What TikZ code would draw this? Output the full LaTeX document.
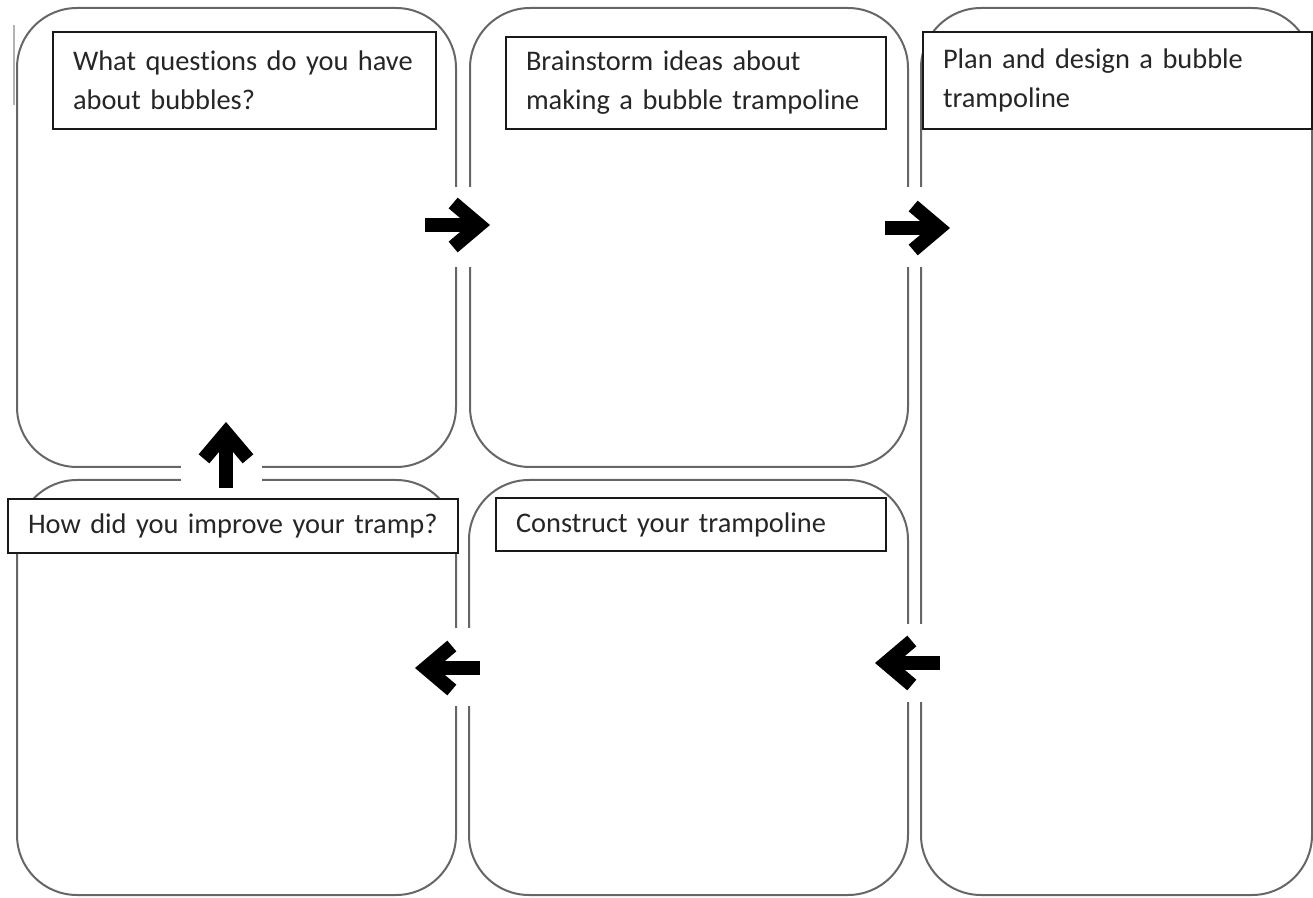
\documentclass[tikz,border=0pt]{standalone}
\usepackage{fontspec}
\setmainfont{Carlito}[Ligatures=NoCommon]
\usetikzlibrary{arrows.meta}

\begin{document}
\begin{tikzpicture}[x=0.5pt,y=-0.5pt,
    panel/.style={draw=black!60, line width=1pt, rounded corners=30pt, inner sep=0pt},
    label/.style={draw=black!90, line width=1pt, fill=white, anchor=north west,
      align=left, inner xsep=10pt, inner ysep=0pt, text=black!85,
      font=\fontsize{14.2}{19.5}\selectfont},
    flow/.style={line width=7pt, -{Straight Barb[length=13pt, width=22pt, line width=7pt]}}]

  \useasboundingbox (0,0) rectangle (1313,898);

  % stray scan line
  \draw[black!30, line width=0.75pt] (14,25) -- (14,105);

  % the five boxes
  \node[panel, minimum width=219.5pt, minimum height=229.5pt] (questions) at (236.5,237.5) {};
  \node[panel, minimum width=219pt, minimum height=229.5pt] (brainstorm) at (689,237.5) {};
  \node[panel, minimum width=195.5pt, minimum height=443.5pt] (design) at (1116.5,451.5) {};
  \node[panel, minimum width=219.5pt, minimum height=207.5pt] (improve) at (236.5,687.5) {};
  \node[panel, minimum width=219.5pt, minimum height=207.5pt] (construct) at (688.5,687.5) {};

  % breaks in the borders round the arrows
  \foreach \x/\y/\u/\v in {449/187/477/267, 902/187/927/267, 902/624/927/702,
                           449/628/476/706, 181/461/262/486}
      \fill[white] (\x,\y) rectangle (\u,\v);

  % headings
  \node[label, text width=171.5pt, minimum height=48.5pt] (qtext) at (52,31)
      {What questions do you have\\about bubbles?};
  \node[label, text width=170pt, minimum height=46pt] (btext) at (505,36)
      {Brainstorm ideas about\\making a bubble trampoline};
  \node[label, text width=174.5pt, minimum height=48.5pt] (dtext) at (922,31)
      {Plan and design a bubble\\trampoline};
  \node[label, text width=205pt, minimum height=27pt] (itext) at (7,498)
      {How did you improve your tramp?};
  \node[label, text width=175pt, minimum height=26.5pt] (ctext) at (495,497)
      {Construct your trampoline};

  % arrows
  \coordinate (ab-tail) at (425,225);  \coordinate (ab-head) at (490,225);
  \coordinate (bc-tail) at (885,228);  \coordinate (bc-head) at (950,228);
  \coordinate (ce-tail) at (940,663);  \coordinate (ce-head) at (875,663);
  \coordinate (ed-tail) at (480,668);  \coordinate (ed-head) at (415,668);
  \coordinate (da-tail) at (226,488);  \coordinate (da-head) at (226,422);

  \foreach \i in {ab, bc, ce, ed, da}
      \draw[flow] (\i-tail) -- (\i-head);

\end{tikzpicture}
\end{document}
